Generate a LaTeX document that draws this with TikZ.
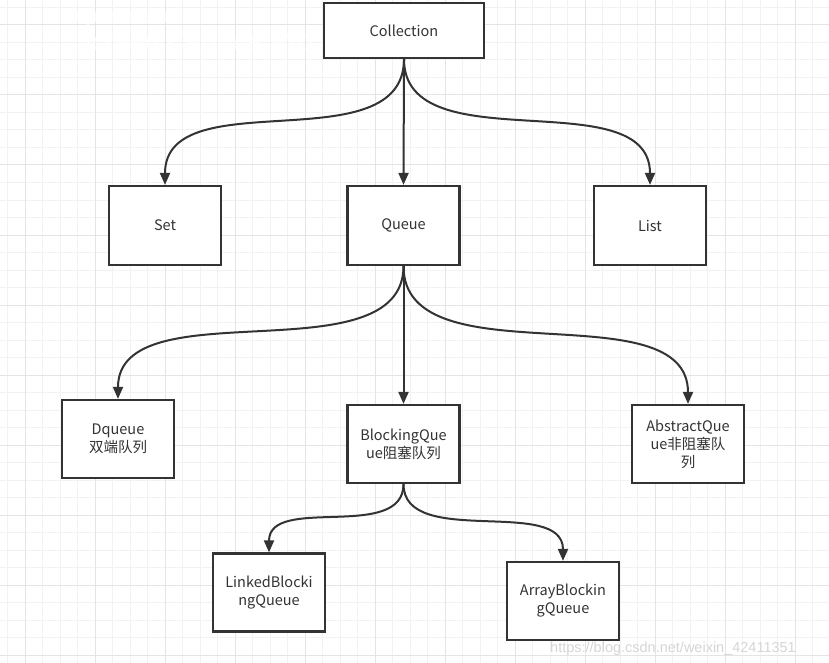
\documentclass[tikz,border=0pt]{standalone}
\usepackage{fontspec}
\setmainfont{Noto Sans CJK SC}
\newfontfamily\wmfont{Liberation Sans}
\usetikzlibrary{arrows.meta,calc}
\definecolor{ink}{HTML}{333333}
\definecolor{gridminor}{HTML}{F2F2F2}
\definecolor{gridmajor}{HTML}{E4E4E4}
\definecolor{wmgray}{HTML}{D6D6D6}
\begin{document}
\begin{tikzpicture}[x=1pt,y=-1pt,
  box/.style={draw=ink, line width=2.2pt, fill=white, text=ink, align=center,
    font=\fontsize{14.5}{18}\selectfont, inner sep=0pt,
    minimum width=112pt, minimum height=78pt},
  arr/.style={draw=ink, line width=2pt, -{Triangle[length=12pt,width=10pt]}},
  gminor/.style={draw=gridminor, line width=1pt},
  gmajor/.style={draw=gridmajor, line width=1pt}]
\useasboundingbox (0,0) rectangle (829,663);
\fill[white] (0,0) rectangle (829,663);
% grid
\foreach \k in {0,...,47} {
  \draw[gminor] (7.5+17.5*\k,0) -- (7.5+17.5*\k,663);
}
\foreach \k in {0,...,37} {
  \draw[gminor] (0,7.5+17.5*\k) -- (829,7.5+17.5*\k);
}
\foreach \k in {0,...,11} {
  \draw[gmajor] (25+70*\k,0) -- (25+70*\k,663);
}
\foreach \k in {0,...,9} {
  \draw[gmajor] (0,25+70*\k) -- (829,25+70*\k);
}
% watermark top-left
\node[anchor=base west, inner sep=0pt, text=white, text opacity=0.7, font=\wmfont\itshape\bfseries\fontsize{20}{20}\selectfont] (wm1) at (72,24) {Apowersoft};
\node[anchor=base west, inner sep=0pt, text=white, text opacity=0.7, font=\wmfont\itshape\fontsize{27}{27}\selectfont] (wm2) at (74,51) {Screen Capture Pro};
% nodes
\node[box, minimum width=160pt, minimum height=55pt] (col) at (404,30.5) {Collection};
\node[box, minimum height=79pt] (set) at (165,225.5) {Set};
\node[box, minimum height=79pt] (que) at (403.5,225.5) {Queue};
\node[box, minimum height=79pt] (lst) at (650,225.5) {List};
\node[box] (dq) at (118,439) {Dqueue\\双端队列};
\node[box] (bq) at (403.5,444) {BlockingQue\\ue阻塞队列};
\node[box] (aq) at (688,444) {AbstractQue\\ue非阻塞队\\列};
\node[box] (lbq) at (269,592.5) {LinkedBlocki\\ngQueue};
\node[box] (abq) at (563,601) {ArrayBlockin\\gQueue};
% connectors
\draw[arr] (col.south) -- (que.north);
\draw[arr] (col.south) .. controls ($(col.south)+(0,105)$) and ($(set.north)+(0,-105)$) .. (set.north);
\draw[arr] (col.south) .. controls ($(col.south)+(0,105)$) and ($(lst.north)+(0,-105)$) .. (lst.north);
\draw[arr] (que.south) -- (bq.north);
\draw[arr] (que.south) .. controls ($(que.south)+(0,112)$) and ($(dq.north)+(0,-112)$) .. (dq.north);
\draw[arr] (que.south) .. controls ($(que.south)+(0,115)$) and ($(aq.north)+(0,-115)$) .. (aq.north);
\draw[arr] (bq.south) .. controls ($(bq.south)+(0,58)$) and ($(lbq.north)+(0,-58)$) .. (lbq.north);
\draw[arr] (bq.south) .. controls ($(bq.south)+(0,65)$) and ($(abq.north)+(0,-65)$) .. (abq.north);
% watermark bottom-right
\node[anchor=base west, inner sep=0pt, text=wmgray, font=\wmfont\fontsize{14.5}{14.5}\selectfont] (wm3) at (550,652) {https://blog.csdn.net/weixin\_42411351};
\end{tikzpicture}
\end{document}
